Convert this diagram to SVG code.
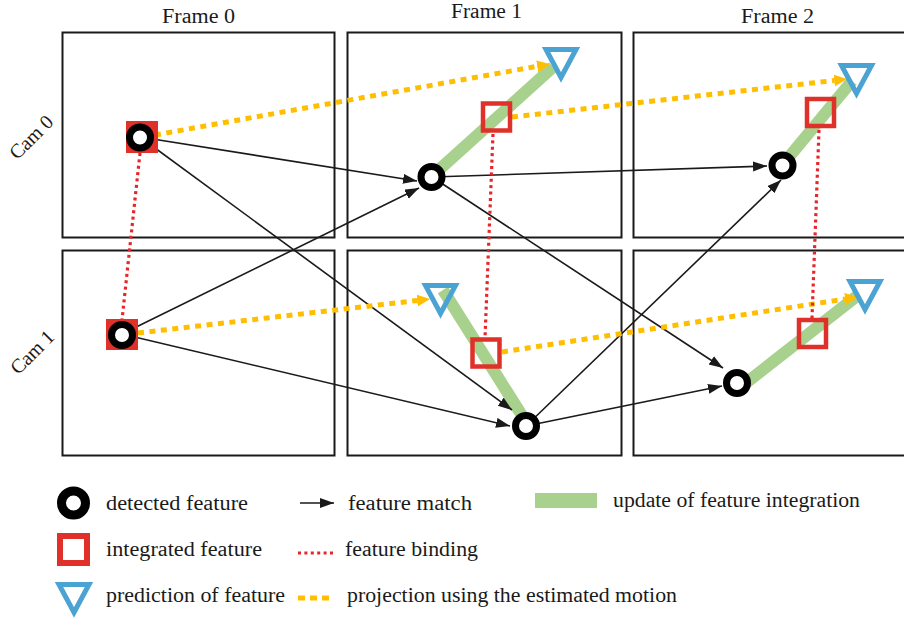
<svg xmlns="http://www.w3.org/2000/svg" xmlns:xlink="http://www.w3.org/1999/xlink" width="904" height="622" viewBox="0 0 904 622">
<style>
text{font-family:"Liberation Serif","Times New Roman",serif;font-size:20px;fill:#1a1a1a}
.panel{fill:none;stroke:#1a1a1a;stroke-width:2}
.match{fill:none;stroke:#1a1a1a;stroke-width:1.6}
.bind{fill:none;stroke:#e8262a;stroke-width:3.2;stroke-dasharray:3 3.4}
.proj{fill:none;stroke:#ffbf00;stroke-width:5;stroke-dasharray:6 5.5}
.upd{fill:none;stroke:#a8d18d;stroke-width:12}
.det{fill:#fff;stroke:#000;stroke-width:7}
.int{fill:none;stroke:#e0302a;stroke-width:4.5}
.pred{fill:none;stroke:#4aa3d3;stroke-width:5}
</style>
<defs>
<marker id="ah" markerUnits="userSpaceOnUse" markerWidth="15" markerHeight="11" refX="14" refY="5" orient="auto"><path d="M0,0 L14,5 L0,10 z" fill="#1a1a1a"/></marker>
<marker id="yh" markerUnits="userSpaceOnUse" markerWidth="14" markerHeight="13" refX="0" refY="6" orient="auto"><path d="M0,0 L13,6 L0,12 z" fill="#ffbf00"/></marker>
<polygon id="tri" points="-15,-14 15,-14 0,14"/>
<rect id="sq" x="-13.5" y="-13.5" width="27" height="27"/>
</defs>

<g id="panels">
<rect class="panel" x="62.5" y="32.5" width="272" height="205"/>
<rect class="panel" x="347.5" y="32.5" width="274" height="205"/>
<rect class="panel" x="633.5" y="32.5" width="274" height="205"/>
<rect class="panel" x="62.5" y="250.5" width="272" height="205"/>
<rect class="panel" x="347.5" y="250.5" width="274" height="205"/>
<rect class="panel" x="633.5" y="250.5" width="274" height="205"/>
</g>

<g id="labels">
<text x="162" y="23" textLength="73" lengthAdjust="spacingAndGlyphs">Frame 0</text>
<text x="451" y="18" textLength="71" lengthAdjust="spacingAndGlyphs">Frame 1</text>
<text x="741" y="23" textLength="73" lengthAdjust="spacingAndGlyphs">Frame 2</text>
<text x="31" y="137" dy="0.35em" text-anchor="middle" transform="rotate(-45 31 137)">Cam 0</text>
<text x="32" y="352" dy="0.35em" text-anchor="middle" transform="rotate(-45 32 352)">Cam 1</text>
</g>

<g id="connectors">
<line class="upd" x1="431" y1="177" x2="553" y2="67"/>
<line class="upd" x1="779" y1="169" x2="852" y2="81"/>
<line class="upd" x1="443" y1="290" x2="528" y2="425"/>
<line class="upd" x1="737" y1="390" x2="857" y2="296"/>

<line class="match" x1="140" y1="137" x2="417" y2="181" marker-end="url(#ah)"/>
<line class="match" x1="122" y1="334" x2="419" y2="188" marker-end="url(#ah)"/>
<line class="match" x1="140" y1="137" x2="512" y2="410" marker-end="url(#ah)"/>
<line class="match" x1="122" y1="334" x2="510" y2="426" marker-end="url(#ah)"/>
<line class="match" x1="432" y1="177" x2="723" y2="368" marker-end="url(#ah)"/>
<line class="match" x1="526" y1="426" x2="781" y2="180" marker-end="url(#ah)"/>
<line class="match" x1="432" y1="177" x2="767" y2="166" marker-end="url(#ah)"/>
<line class="match" x1="526" y1="426" x2="722" y2="386" marker-end="url(#ah)"/>

<line class="proj" x1="155" y1="135" x2="537.2" y2="66.3" marker-end="url(#yh)"/>
<line class="proj" x1="512" y1="117" x2="834.1" y2="80.5" marker-end="url(#yh)"/>
<line class="proj" x1="138" y1="333" x2="417.1" y2="300.5" marker-end="url(#yh)"/>
<line class="proj" x1="502" y1="352" x2="845.2" y2="299" marker-end="url(#yh)"/>

<line class="bind" x1="140" y1="153" x2="122" y2="320"/>
<line class="bind" x1="493" y1="134" x2="485" y2="338"/>
<line class="bind" x1="819" y1="130" x2="812" y2="318"/>
</g>

<g id="c0f0">
<rect x="126" y="121" width="32" height="32" fill="#e0302a"/>
<circle class="det" cx="140" cy="137.5" r="10.5"/>
</g>
<g id="c1f0">
<rect x="106" y="319" width="32" height="31" fill="#e0302a"/>
<circle class="det" cx="122" cy="335" r="10.5"/>
</g>
<g id="c0f1_det"><circle class="det" cx="431.5" cy="177" r="10.5"/></g>
<g id="c0f1_int"><use xlink:href="#sq" class="int" transform="translate(496.5 117)"/></g>
<g id="c0f1_pred"><use xlink:href="#tri" class="pred" transform="translate(561 63.5)"/></g>
<g id="c0f2_det"><circle class="det" cx="782.5" cy="165.5" r="10.5"/></g>
<g id="c0f2_int"><use xlink:href="#sq" class="int" transform="translate(820.5 112.5)"/></g>
<g id="c0f2_pred"><use xlink:href="#tri" class="pred" transform="translate(856.5 79.5)"/></g>
<g id="c1f1_det"><circle class="det" cx="526" cy="426" r="10.5"/></g>
<g id="c1f1_int"><use xlink:href="#sq" class="int" transform="translate(486 353)"/></g>
<g id="c1f1_pred"><use xlink:href="#tri" class="pred" transform="translate(440.5 299.5)"/></g>
<g id="c1f2_det"><circle class="det" cx="737" cy="383" r="10.5"/></g>
<g id="c1f2_int"><use xlink:href="#sq" class="int" transform="translate(812.5 333.5)"/></g>
<g id="c1f2_pred"><use xlink:href="#tri" class="pred" transform="translate(865 295.5)"/></g>

<g id="legend">
<circle cx="73.5" cy="503" r="12" fill="#fff" stroke="#000" stroke-width="9"/>
<text x="106" y="510" textLength="142" lengthAdjust="spacingAndGlyphs">detected feature</text>
<rect x="60" y="536" width="27" height="27" fill="none" stroke="#e0302a" stroke-width="6"/>
<text x="106" y="556" textLength="156" lengthAdjust="spacingAndGlyphs">integrated feature</text>
<use xlink:href="#tri" class="pred" transform="translate(74 598.5)"/>
<text x="106" y="601.5" textLength="179" lengthAdjust="spacingAndGlyphs">prediction of feature</text>
<line class="match" x1="300" y1="503" x2="334" y2="503" marker-end="url(#ah)"/>
<text x="348" y="510" textLength="124" lengthAdjust="spacingAndGlyphs">feature match</text>
<line class="bind" x1="298" y1="553" x2="334" y2="553"/>
<text x="345" y="555.5" textLength="133" lengthAdjust="spacingAndGlyphs">feature binding</text>
<line x1="298" y1="598" x2="332" y2="598" fill="none" stroke="#ffbf00" stroke-width="5" stroke-dasharray="7 5"/>
<text x="347" y="601.5" textLength="330" lengthAdjust="spacingAndGlyphs">projection using the estimated motion</text>
<rect x="535" y="493" width="62" height="15" fill="#a8d18d"/>
<text x="613" y="506.5" textLength="247" lengthAdjust="spacingAndGlyphs">update of feature integration</text>
</g>
</svg>
